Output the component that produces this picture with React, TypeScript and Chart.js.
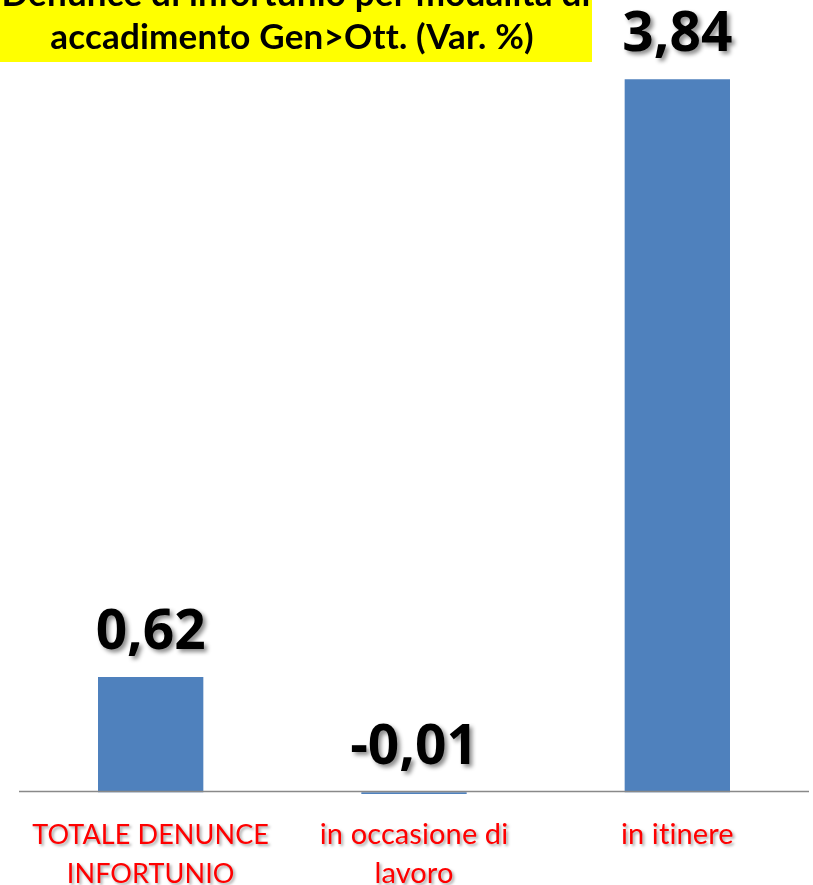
import React, { useEffect, useRef } from 'react';
import Chart from 'chart.js/auto';

const categories: string[][] = [
  ['TOTALE DENUNCE', 'INFORTUNIO'],
  ['in occasione di', 'lavoro'],
  ['in itinere'],
];
const values: number[] = [0.62, -0.01, 3.84];
const valueLabels: string[] = ['0,62', '-0,01', '3,84'];
const titleLines: string[] = ['Denunce di infortunio per modalità di', 'accadimento Gen>Ott. (Var. %)'];

const decor = {
  id: 'decor',
  beforeDraw(chart: any) {
    const ctx = chart.ctx as any;
    ctx.save();
    ctx.fillStyle = '#FFFFFF';
    ctx.fillRect(0, 0, chart.width, chart.height);
    ctx.fillStyle = '#FFFF00';
    ctx.fillRect(0, 0, 592, 62);
    ctx.fillStyle = '#000000';
    ctx.font = 'bold 35px Lato';
    ctx.letterSpacing = '0.2px';
    ctx.textAlign = 'center';
    ctx.textBaseline = 'alphabetic';
    ctx.fillText(titleLines[0], 296, 6);
    ctx.fillText(titleLines[1], 292, 49);
    ctx.restore();
  },
  afterDatasetsDraw(chart: any) {
    const ctx = chart.ctx as any;
    const xs = chart.scales.x;
    const ys = chart.scales.y;
    const area = chart.chartArea;
    const zeroY = ys.getPixelForValue(0);
    ctx.save();
    // axis line
    ctx.strokeStyle = '#898989';
    ctx.lineWidth = 1.6;
    ctx.beginPath();
    ctx.moveTo(area.left, zeroY - 0.6);
    ctx.lineTo(area.right, zeroY - 0.6);
    ctx.stroke();

    // value labels
    const meta = chart.getDatasetMeta(0);
    ctx.font = 'bold 55px "Open Sans"';
    ctx.textAlign = 'center';
    ctx.textBaseline = 'alphabetic';
    ctx.shadowColor = 'rgba(0,0,0,0.45)';
    ctx.shadowOffsetX = 3;
    ctx.shadowOffsetY = 3;
    ctx.shadowBlur = 4;
    ctx.fillStyle = '#000000';
    meta.data.forEach((el: any, i: number) => {
      const top = Math.min(el.y, el.base);
      ctx.fillText(valueLabels[i], el.x, top - 28);
    });

    // category labels
    ctx.fillStyle = '#FF0000';
    ctx.shadowColor = 'rgba(0,0,0,0.35)';
    ctx.shadowOffsetX = 2;
    ctx.shadowOffsetY = 2;
    ctx.shadowBlur = 3;
    ctx.letterSpacing = '0.1px';
    categories.forEach((lines, i) => {
      const x = xs.getPixelForValue(i);
      lines.forEach((line, j) => {
        const isCaps = line === line.toUpperCase();
        ctx.font = isCaps ? '27px Lato' : '29px Lato';
        ctx.fillText(line, x, 844 + j * 39);
      });
    });
    ctx.restore();
  },
};

export default function App() {
  const ref = useRef<HTMLCanvasElement>(null);
  useEffect(() => {
    const canvas = ref.current!;
    const chart = new Chart(canvas, {
      type: 'bar',
      data: {
        labels: categories.map((c) => c.join(' ')),
        datasets: [
          {
            data: values,
            backgroundColor: '#4F81BD',
            borderWidth: 0,
            barPercentage: 0.4,
            categoryPercentage: 1,
          },
        ],
      },
      options: {
        animation: false,
        responsive: false,
        devicePixelRatio: 1,
        layout: { padding: { left: 19, right: 4, top: 3, bottom: 0 } },
        scales: {
          x: { display: false },
          y: { display: false, min: -0.5, max: 4.25 },
        },
        plugins: {
          legend: { display: false },
          tooltip: { enabled: false },
          title: { display: false },
        },
      },
      plugins: [decor],
    });
    return () => chart.destroy();
  }, []);
  return (
    <div style={{ position: 'absolute', left: 0, top: 0, width: 813, height: 885 }}>
      <canvas ref={ref} width={813} height={885} style={{ display: 'block' }} />
    </div>
  );
}
